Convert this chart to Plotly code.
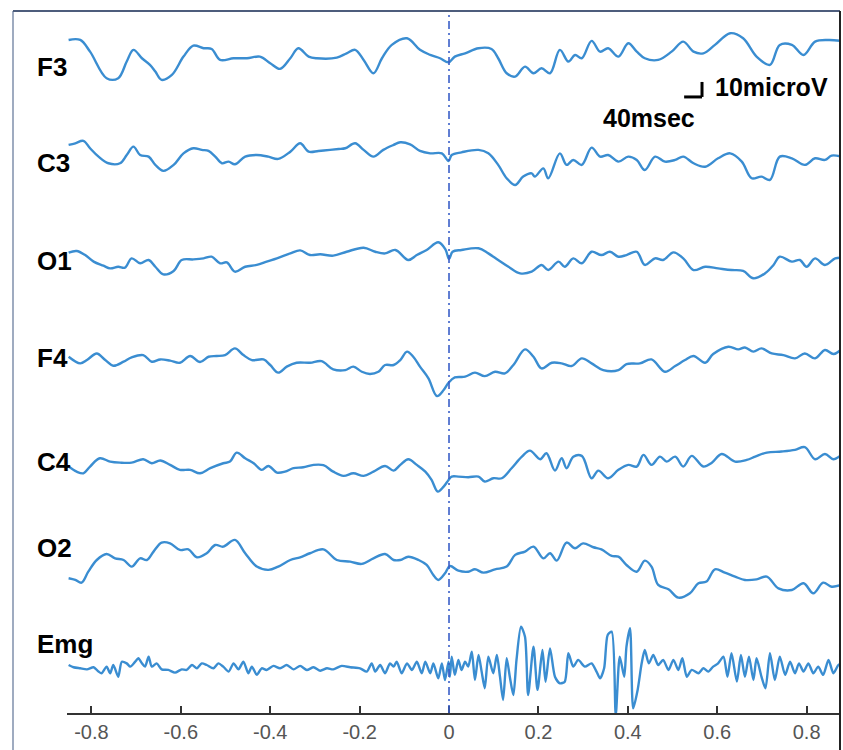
import plotly.graph_objects as go

# ---------------- data (time in s, amplitude in microvolts) ----------------
CHANNELS = ["F3", "C3", "O1", "F4", "C4", "O2", "Emg"]
TICK_VALUES = [-0.8, -0.6, -0.4, -0.2, 0, 0.2, 0.4, 0.6, 0.8]
TICK_LABELS = ["-0.8", "-0.6", "-0.4", "-0.2", "0", "0.2", "0.4", "0.6", "0.8"]

F3_T = [-0.851,-0.825,-0.803,-0.766,-0.740,-0.721,-0.706,-0.687,-0.669,-0.657,-0.643,-0.620,-0.594,-0.572,-0.549,-0.531,-0.512,-0.482,-0.452,-0.423,-0.400,-0.378,-0.355,-0.337,-0.314,-0.296,-0.251,-0.229,-0.210,-0.191,-0.169,-0.150,-0.128,-0.094,-0.065,-0.042,-0.020,-0.001,
        0.013,0.036,0.066,0.095,0.110,0.129,0.148,0.170,0.189,0.207,0.226,0.248,0.267,0.282,0.297,0.319,0.338,0.356,0.379,0.401,0.420,0.438,0.468,0.498,0.524,0.547,0.569,0.595,0.629,0.658,0.688,0.718,0.740,0.767,0.793,0.819,0.849,0.878]
F3_UV = [12.2,12.2,4.4,-13.3,-13.3,-2.2,5.6,0,-4.4,-8.9,-14.4,-11.1,1.1,8.4,6.7,6.2,-1.1,0,0,1.1,-3.3,-7.1,0,6.7,1.1,0,0.4,3.3,5.6,-1.1,-10,0,8.9,13.3,5.6,2.2,0,-2.7,
         1.1,3.3,6.7,6.2,0,-10,-12.2,-5.6,-10,-6.7,-10,5.6,-2.2,2.2,0,11.6,4.4,6.7,1.1,10,4.4,0,-1.1,4.4,11.1,4.4,3.3,8.9,16.7,13.3,1.1,-4.4,8.9,8.9,2.2,11.1,12.2,11.6]

C3_T = [-0.851,-0.836,-0.818,-0.803,-0.784,-0.762,-0.736,-0.721,-0.706,-0.691,-0.672,-0.657,-0.639,-0.616,-0.594,-0.572,-0.553,-0.538,-0.523,-0.508,-0.493,-0.479,-0.456,-0.430,-0.404,-0.382,-0.355,-0.333,-0.314,-0.292,-0.266,-0.247,-0.232,-0.210,-0.191,-0.169,-0.147,-0.124,-0.109,-0.087,-0.065,-0.042,-0.016,-0.001,
        0.006,0.028,0.066,0.088,0.110,0.129,0.148,0.166,0.185,0.192,0.211,0.222,0.248,0.263,0.278,0.297,0.319,0.338,0.356,0.379,0.401,0.420,0.438,0.461,0.483,0.506,0.524,0.547,0.573,0.602,0.629,0.655,0.677,0.699,0.718,0.740,0.767,0.796,0.819,0.841,0.856,0.878]
C3_UV = [8.9,10,11.6,6.7,1.1,-3.3,-3.3,2.2,7.8,2.2,1.1,-4.4,-8.4,-4.4,3.3,6.7,5.6,4.9,1.1,-3.3,-2.2,-4,1.1,2.2,1.1,-0.4,4.4,10,4.4,4.9,5.6,6.2,6.7,10,5.6,1.1,5.6,8.9,10.7,9.3,4.9,3.3,3.3,-1.8,
         2.2,4,5.6,3.3,-4.4,-13.3,-17.8,-12.2,-10,-12.2,-6.7,-13.3,3.3,-4.4,-1.1,-4.4,7.1,1.1,2.2,-2.2,1.1,-1.1,-7.8,1.1,-2.2,-1.1,1.1,-3.3,-5.6,0,3.3,-2.2,-13.3,-12.2,-14.4,1.1,0,-4.4,0,-1.1,1.8,1.1]

O1_T = [-0.851,-0.833,-0.814,-0.795,-0.773,-0.758,-0.740,-0.725,-0.710,-0.691,-0.672,-0.657,-0.639,-0.616,-0.598,-0.572,-0.549,-0.531,-0.512,-0.497,-0.479,-0.456,-0.430,-0.408,-0.385,-0.355,-0.333,-0.311,-0.288,-0.259,-0.229,-0.191,-0.165,-0.143,-0.120,-0.091,-0.072,-0.050,-0.024,-0.008,0.000,
        0.008,0.028,0.066,0.088,0.110,0.133,0.159,0.185,0.207,0.222,0.245,0.259,0.278,0.297,0.319,0.341,0.360,0.379,0.397,0.420,0.438,0.461,0.479,0.502,0.524,0.547,0.573,0.602,0.632,0.658,0.681,0.707,0.726,0.740,0.767,0.785,0.800,0.819,0.841,0.864,0.878]
O1_UV = [3.8,4.9,2.2,-2.2,-4.9,-6.7,-5.6,-6.2,0,-3.3,-1.1,-5.6,-10.7,-8.4,-1.1,-0.7,0,1.1,-3.3,-2.7,-8.9,-5.6,-4.4,-2.2,0,3.3,5.3,2.2,2.7,1.8,4.4,7.1,4.4,3.3,5.6,-1.1,2.2,5.6,10.7,6.0,-0.5,
         4.4,5.6,6.7,3.3,-1.1,-5.6,-10,-8.9,-4.4,-7.8,-2.2,-5.6,0,-3.3,4.4,2.2,4.4,1.1,2.2,4.4,-4.4,0,-1.1,4,0,-7.8,-5.6,-6.7,-7.8,-8.4,-13.3,-10,-4.4,1.1,-2.2,-1.1,-5.6,0,-4.4,0,0.4]

F4_T = [-0.851,-0.825,-0.810,-0.788,-0.769,-0.751,-0.728,-0.710,-0.684,-0.665,-0.646,-0.624,-0.602,-0.579,-0.557,-0.538,-0.520,-0.501,-0.479,-0.460,-0.441,-0.415,-0.400,-0.382,-0.363,-0.341,-0.311,-0.285,-0.259,-0.232,-0.214,-0.195,-0.177,-0.158,-0.143,-0.124,-0.109,-0.094,-0.080,-0.065,-0.046,-0.027,-0.012,-0.001,
        0.013,0.036,0.058,0.080,0.103,0.125,0.144,0.170,0.189,0.207,0.230,0.252,0.274,0.297,0.319,0.345,0.379,0.397,0.427,0.453,0.483,0.506,0.528,0.547,0.573,0.591,0.625,0.647,0.662,0.681,0.699,0.722,0.748,0.774,0.796,0.819,0.841,0.860,0.878]
F4_UV = [2.2,-2.2,0,4.4,0,-3.8,-1.1,1.8,3.3,-1.1,0.4,-0.4,-1.8,2.7,-1.3,2.2,2.7,3.3,7.8,3.3,0,0.4,-3.3,-8.4,-4.4,-1.8,-1.8,-0.7,-6.2,-6.7,-4.4,-7.8,-9.3,-7.8,-3.3,-3.3,0,5.6,2.2,-4.4,-12.2,-24,-20,-15.1,
         -11.6,-11.1,-8.4,-10.7,-7.8,-8.9,-3.3,7.1,2.2,-5.6,-1.8,-2.2,-4,1.1,-2.2,-6.7,-6.7,-2.7,-2.2,0.4,-7.8,-4,0,2.7,-1.8,4,8.9,7.1,8.4,5.6,7.8,4.4,3.3,1.1,4.4,1.1,6.7,4,7.1]

C4_T = [-0.851,-0.833,-0.818,-0.803,-0.781,-0.758,-0.736,-0.710,-0.684,-0.665,-0.646,-0.624,-0.602,-0.579,-0.557,-0.534,-0.505,-0.490,-0.475,-0.456,-0.437,-0.419,-0.404,-0.385,-0.367,-0.348,-0.326,-0.303,-0.281,-0.259,-0.236,-0.214,-0.191,-0.169,-0.143,-0.124,-0.109,-0.091,-0.072,-0.053,-0.039,-0.025,-0.012,-0.001,
        0.006,0.021,0.043,0.066,0.080,0.099,0.118,0.140,0.163,0.181,0.204,0.218,0.237,0.252,0.263,0.278,0.297,0.319,0.334,0.356,0.379,0.401,0.420,0.435,0.453,0.472,0.487,0.506,0.524,0.543,0.569,0.588,0.610,0.640,0.666,0.685,0.711,0.744,0.774,0.796,0.819,0.841,0.860,0.878]
C4_UV = [-2.2,-5.6,-6.7,-2.2,3.3,1.1,0.4,0.4,2.7,0,1.8,-1.1,-4.4,-4.4,-6.7,-3.3,0,1.1,7.1,3.3,0,-4.4,-1.8,-6.2,-5.6,-3.3,-2.7,-1.1,-1.3,-5.6,-8.4,-6.7,-8.4,-5.6,-1.8,-4.9,-1.1,2.7,-1.1,-5.6,-11.1,-18.9,-15.6,-11.1,
         -8.9,-8.9,-9.3,-8.9,-12.2,-10,-10,-3.3,4.4,8.4,2.7,6.7,-4.9,3.3,-3.3,4.4,4.9,-10,-4.9,-10,-4.4,-1.1,-2.2,5.6,-1.1,4.4,1.1,4.4,-2.2,4.9,-2.2,0.4,6.2,1.1,2.2,4.4,7.1,7.8,8.9,10.7,2.7,6.2,2.7,5.6]

O2_T = [-0.851,-0.836,-0.822,-0.807,-0.788,-0.766,-0.747,-0.728,-0.710,-0.691,-0.676,-0.661,-0.643,-0.624,-0.602,-0.583,-0.564,-0.542,-0.523,-0.505,-0.479,-0.456,-0.430,-0.404,-0.382,-0.355,-0.333,-0.311,-0.281,-0.251,-0.221,-0.195,-0.169,-0.143,-0.124,-0.109,-0.091,-0.068,-0.050,-0.035,-0.024,-0.009,
        0.002,0.021,0.043,0.058,0.077,0.103,0.129,0.148,0.170,0.189,0.211,0.226,0.241,0.263,0.282,0.300,0.323,0.341,0.364,0.379,0.397,0.420,0.438,0.453,0.468,0.491,0.513,0.539,0.558,0.576,0.595,0.617,0.640,0.662,0.688,0.711,0.737,0.767,0.793,0.815,0.837,0.856,0.878]
O2_UV = [-10,-11.1,-12.9,-5.6,2.2,6.2,3.3,2.2,-2.2,3.3,2.2,7.8,13.8,13.3,8.9,9.3,4,6.7,12.2,11.1,15.6,6.7,-2.2,-4.4,-2.2,2.2,4,6.7,9.3,2.2,1.1,-0.4,3.3,6.2,2.2,2.2,4.4,2.2,-1.1,-7.8,-11.1,-6.7,
         -1.8,-4.9,-5.6,-4,-6.2,-4,-2.2,5.6,7.8,11.1,3.3,6.7,1.8,13.8,10,13.3,10.7,9.3,4.9,4.4,-1.1,-5.6,1.8,-2.2,-14.4,-17.3,-22.9,-20,-13.3,-12.2,-4,-6.2,-8.9,-11.1,-10.7,-8.9,-16.7,-17.8,-13.3,-20,-12.9,-15.6,-14.4]

EMG_T = [-0.851,-0.840,-0.825,-0.810,-0.795,-0.784,-0.777,-0.766,-0.758,-0.751,
         -0.740,-0.732,-0.721,-0.713,-0.702,-0.695,-0.687,-0.680,-0.672,-0.665,
         -0.654,-0.643,-0.628,-0.613,-0.598,-0.587,-0.575,-0.564,-0.553,-0.542,
         -0.527,-0.516,-0.505,-0.493,-0.482,-0.471,-0.460,-0.449,-0.441,-0.430,
         -0.419,-0.408,-0.393,-0.378,-0.363,-0.348,-0.333,-0.318,-0.303,-0.288,
         -0.273,-0.259,-0.240,-0.221,-0.199,-0.184,-0.173,-0.165,-0.154,-0.143,
         -0.132,-0.124,-0.117,-0.106,-0.094,-0.083,-0.072,-0.061,-0.053,-0.042,
         -0.035,-0.024,-0.016,-0.009,-0.001,
         0.002,0.006,0.013,0.021,0.028,0.036,0.043,0.051,0.058,0.066,
         0.073,0.080,0.088,0.099,0.107,0.114,0.121,0.129,0.136,0.144,
         0.151,0.161,0.170,0.177,0.189,0.198,0.209,0.216,0.226,0.237,
         0.248,0.259,0.267,0.278,0.289,0.304,0.319,0.330,0.338,0.347,
         0.355,0.364,0.373,0.382,0.392,0.397,0.405,0.412,0.422,0.431,
         0.438,0.447,0.457,0.468,0.479,0.491,0.502,0.513,0.522,0.532,
         0.543,0.558,0.569,0.580,0.591,0.602,0.614,0.623,0.632,0.644,
         0.653,0.662,0.671,0.681,0.688,0.699,0.708,0.718,0.729,0.740,
         0.752,0.763,0.774,0.783,0.793,0.804,0.815,0.826,0.837,0.849,
         0.860,0.871,0.878]
EMG_UV = [2.2,0.7,0,-0.7,0.7,-2.2,-3.3,1.1,-3.3,2.2,
          -5.6,4.4,3.3,1.1,4.4,6.7,3.3,1.1,7.8,1.1,
          3.3,-0.7,-1.1,-2.9,-0.7,-1.1,2.2,0,3.3,2.2,
          0,3.3,1.1,-2.2,3.3,-0.7,4.4,-3.3,1.1,-4.4,
          0,-1.1,1.6,0,2.2,-0.7,1.6,-1.1,0.7,-1.6,
          0,-0.7,1.6,0.7,0,-2.2,3.3,-2.2,2.2,-3.3,
          3.3,1.1,4.4,-3.3,3.3,-1.1,4.4,-3.3,4.4,-3.3,
          3.3,-6.7,3.3,-7.8,4.4,
          -5.6,7.8,-4.4,5.6,-1.1,4.4,1.1,11.1,-7.8,8.9,
          -2.2,-13.3,7.8,-3.3,8.9,-5.6,-21.1,6.7,-5.6,-17.8,
          5.6,27.8,21.1,-17.8,14.4,-14.4,12.2,-8.9,13.3,-5.6,
          -10,-8.9,10,1.1,5.6,1.1,3.3,-2.2,-6.7,0,
          22.2,24.4,-31.1,7.8,-5.6,14.4,26.7,-26.7,-14.4,3.3,
          12.2,3.3,8.9,2.2,5.6,-1.1,5.6,-1.1,6.7,-5.6,
          -1.1,-3.3,0,-2.2,1.1,3.3,7.8,-5.6,10,-8.9,
          8.9,-5.6,7.8,-7.8,6.7,-5.6,-13.3,10,-7.8,7.8,
          -4.4,4.4,-3.3,3.3,-2.2,3.3,-3.3,1.1,-4.4,5.6,
          -3.3,2.2,3.3]

SERIES = {
    "F3": (F3_T, F3_UV), "C3": (C3_T, C3_UV), "O1": (O1_T, O1_UV),
    "F4": (F4_T, F4_UV), "C4": (C4_T, C4_UV), "O2": (O2_T, O2_UV),
    "Emg": (EMG_T, EMG_UV),
}

# ---------------- layout constants ----------------
W, H = 843, 750
ML, MR, MT, MB = 67, 3, 11, 37
PW, PH = W - ML - MR, H - MT - MB
Y_MAX = 468.0                       # axis span in microvolts (1 uV = 1.5 px)
OFFSETS = {"F3": 436.5, "C3": 369.8, "O1": 303.1, "F4": 235.3,
           "C4": 166.5, "O2": 99.8, "Emg": 29.8}
LABEL_PX_Y = {"F3": 67, "C3": 163, "O1": 261, "F4": 358,
              "C4": 462, "O2": 548, "Emg": 644}
LINE_COLOR = "#3a8dd1"
FONT = "Liberation Sans, Arial, sans-serif"

def py_to_paper(py):
    return (H - MB - py) / PH

def px_to_paper(px):
    return (px - ML) / PW

fig = go.Figure()
for ch in CHANNELS:
    t, uv = SERIES[ch]
    n = min(len(t), len(uv))
    fig.add_trace(go.Scatter(
        x=t[:n], y=[v + OFFSETS[ch] for v in uv[:n]],
        mode="lines",
        line=dict(color=LINE_COLOR, width=2.4,
                  shape="spline", smoothing=0.7 if ch == "Emg" else 1.0),
        hoverinfo="skip", showlegend=False))

shapes = []
# event marker at t = 0
shapes.append(dict(type="line", xref="x", yref="paper", x0=0, x1=0, y0=0, y1=1,
                   line=dict(color="#3a5fc8", width=1.6, dash="8px,4px,2px,4px")))
# scale bar: 40 ms horizontal, 10 uV vertical
bar_t, bar_y = 0.566, 410.7
shapes.append(dict(type="line", xref="x", yref="y", x0=bar_t - 0.04, x1=bar_t,
                   y0=bar_y, y1=bar_y, line=dict(color="black", width=3)))
shapes.append(dict(type="line", xref="x", yref="y", x0=bar_t, x1=bar_t,
                   y0=bar_y, y1=bar_y + 10, line=dict(color="black", width=3)))
# outer frame of the picture
left_b = px_to_paper(13)
bottom_b = py_to_paper(H)
shapes.append(dict(type="line", xref="paper", yref="paper", x0=left_b, x1=left_b,
                   y0=bottom_b, y1=1, line=dict(color="#9fabc0", width=2)))
shapes.append(dict(type="line", xref="paper", yref="paper", x0=left_b, x1=1.0,
                   y0=1, y1=1, line=dict(color="#4d5d7c", width=2)))
shapes.append(dict(type="line", xref="paper", yref="paper", x0=1.0, x1=1.0,
                   y0=bottom_b, y1=1, line=dict(color="#222222", width=2)))

annotations = []
for ch in CHANNELS:
    annotations.append(dict(
        text=f"<b>{ch}</b>", xref="paper", yref="paper",
        x=px_to_paper(35), y=py_to_paper(LABEL_PX_Y[ch]),
        xanchor="left", yanchor="middle", showarrow=False,
        font=dict(family=FONT, size=26, color="black")))
annotations.append(dict(text="<b>10microV</b>", xref="x", yref="y",
                        x=0.5906, y=417.3, xanchor="left", yanchor="middle",
                        showarrow=False, font=dict(family=FONT, size=25, color="black")))
annotations.append(dict(text="<b>40msec</b>", xref="x", yref="y",
                        x=0.555, y=396.7, xanchor="right", yanchor="middle",
                        showarrow=False, font=dict(family=FONT, size=25, color="black")))

fig.update_layout(
    width=W, height=H,
    margin=dict(l=ML, r=MR, t=MT, b=MB, pad=0),
    paper_bgcolor="white", plot_bgcolor="white",
    shapes=shapes, annotations=annotations,
    xaxis=dict(range=[-0.8546, 0.8747], tickmode="array",
               tickvals=TICK_VALUES, ticktext=TICK_LABELS,
               ticks="inside", ticklen=7, tickwidth=1.5, tickcolor="#333333",
               showline=True, linecolor="#333333", linewidth=1.5,
               showgrid=False, zeroline=False,
               tickfont=dict(family=FONT, size=20, color="#555555")),
    yaxis=dict(range=[0, Y_MAX], visible=False, showgrid=False, zeroline=False),
)

fig.write_html("out.html", config={"displayModeBar": False},
               post_script="document.body.style.margin='0';document.body.style.overflow='hidden';")
